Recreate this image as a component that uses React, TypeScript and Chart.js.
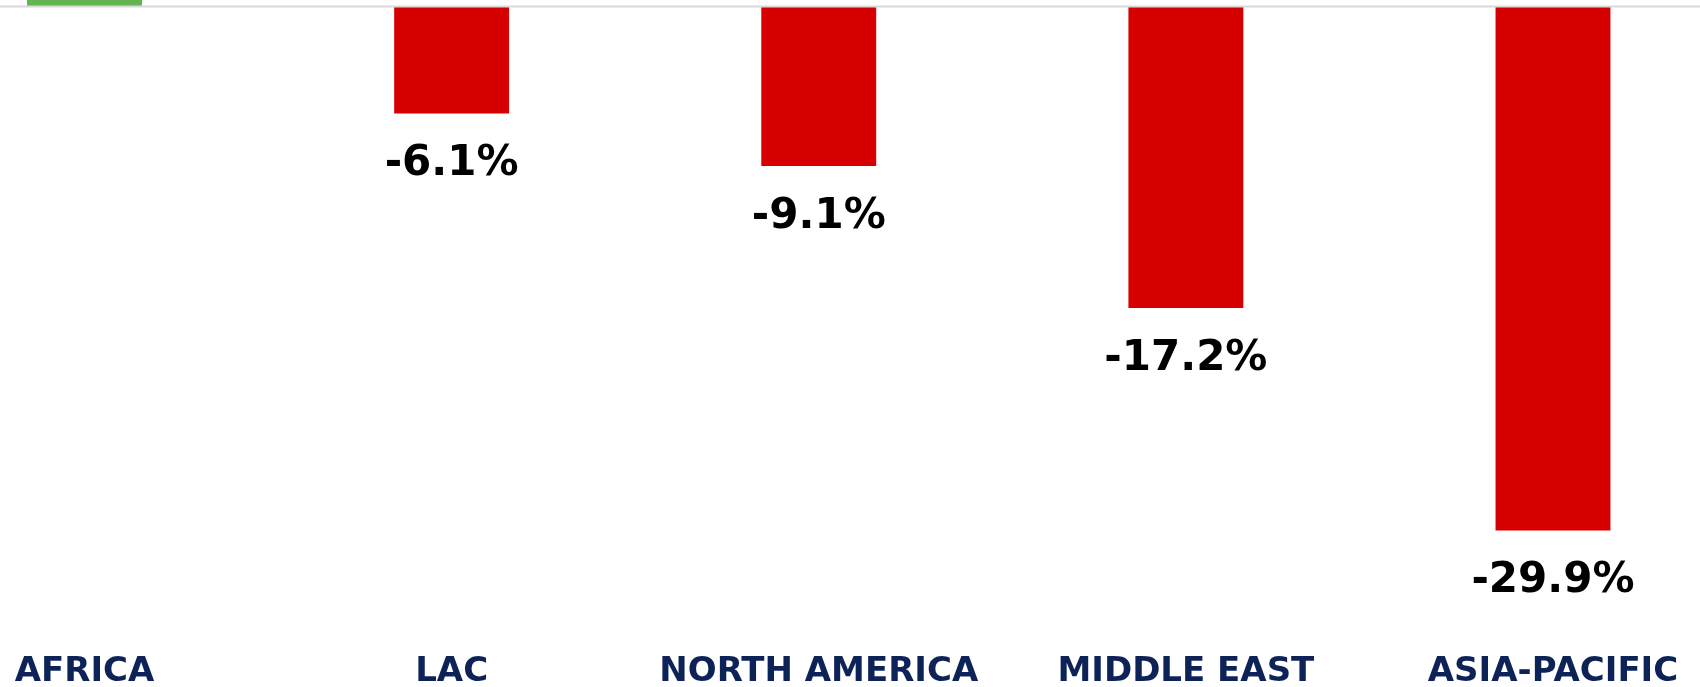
import React, { useEffect, useRef } from "react";
import { Chart, registerables } from "chart.js";

Chart.register(...registerables);

const categories: string[] = ["AFRICA", "LAC", "NORTH AMERICA", "MIDDLE EAST", "ASIA-PACIFIC"];
const changePct: number[] = [2.3, -6.1, -9.1, -17.2, -29.9];
const valueLabels: string[] = ["+2.3%", "-6.1%", "-9.1%", "-17.2%", "-29.9%"];

const POS_COLOR = "#62b552";
const NEG_COLOR = "#d60000";
const NAVY = "#0d2357";
const VALUE_FONT = 42;

const zeroLinePlugin = {
  id: "zeroLine",
  afterDatasetsDraw(chart: any) {
    const { ctx } = chart;
    const y = chart.scales.y.getPixelForValue(0);
    ctx.save();
    ctx.strokeStyle = "#d9d9d9";
    ctx.lineWidth = 2;
    ctx.beginPath();
    ctx.moveTo(0, y);
    ctx.lineTo(chart.width, y);
    ctx.stroke();
    ctx.restore();
  },
};

const valueLabelPlugin = {
  id: "valueLabels",
  afterDatasetsDraw(chart: any) {
    const { ctx } = chart;
    const meta = chart.getDatasetMeta(0);
    ctx.save();
    ctx.font = `bold ${VALUE_FONT}px "DejaVu Sans"`;
    ctx.fillStyle = "#000000";
    ctx.textAlign = "center";
    ctx.textBaseline = "alphabetic";
    const capH = VALUE_FONT * 0.729;
    meta.data.forEach((bar: any, i: number) => {
      const v = changePct[i];
      if (v < 0) {
        ctx.fillText(valueLabels[i], bar.x, bar.y + 31 + capH);
      } else {
        ctx.fillText(valueLabels[i], bar.x, bar.y - 20);
      }
    });
    ctx.restore();
  },
};

export default function App() {
  const canvasRef = useRef<HTMLCanvasElement | null>(null);

  useEffect(() => {
    document.body.style.margin = "0";
    const canvas = canvasRef.current;
    if (!canvas) return;
    const chart = new Chart(canvas, {
      type: "bar",
      data: {
        labels: categories,
        datasets: [
          {
            data: changePct,
            backgroundColor: changePct.map((v) => (v >= 0 ? POS_COLOR : NEG_COLOR)),
            borderWidth: 0,
            categoryPercentage: 1,
            barPercentage: 0.313,
            clip: false as any,
          },
        ],
      },
      options: {
        animation: false,
        responsive: false,
        maintainAspectRatio: false,
        layout: { padding: { left: 84.5, right: 147, top: 6.5, bottom: -2 } },
        plugins: {
          legend: { display: false },
          title: { display: false },
          tooltip: { enabled: false },
        },
        scales: {
          x: {
            offset: false,
            grid: { display: false, drawTicks: false },
            border: { display: false },
            ticks: {
              color: NAVY,
              font: { family: "DejaVu Sans", weight: "bold", size: 34, lineHeight: 1 },
              padding: 0,
              maxRotation: 0,
              autoSkip: false,
            },
          },
          y: {
            display: false,
            min: -37,
            max: 0,
          },
        },
      },
      plugins: [zeroLinePlugin, valueLabelPlugin],
    });
    return () => chart.destroy();
  }, []);

  return (
    <div style={{ position: "fixed", left: 0, top: 0, width: 1700, height: 687, background: "#ffffff" }}>
      <canvas ref={canvasRef} width={1700} height={687} style={{ width: 1700, height: 687, display: "block" }} />
    </div>
  );
}
